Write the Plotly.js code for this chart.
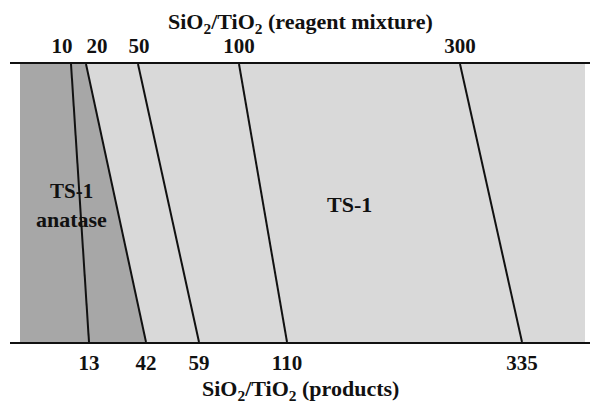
<!DOCTYPE html>
<html>
<head>
<meta charset="utf-8">
<script src="https://cdn.plot.ly/plotly-3.0.1.min.js"></script>
</head>
<body style="margin:0">
<div id="chart" style="width:590px;height:403px"></div>
<script>
// Reagent-mixture SiO2/TiO2 ratios (top) and resulting product ratios (bottom)
var reagentRatio = ['10', '20', '50', '100', '300'];
var productRatio = ['13', '42', '59', '110', '335'];
// line end positions on a shared horizontal scale (top edge / bottom edge)
var lineTop = [71, 86, 138, 239, 460];
var lineBottom = [89, 146, 199, 287, 522];
// top tick label positions (10 and 20 spread apart for legibility)
var topLabelPos = [62, 97, 139, 239, 460];
// phase region boundaries
var regionLeft = 20, regionRight = 585;

var FONT = 'Liberation Serif';
var traces = [];
// light gray TS-1 region
traces.push({x:[regionLeft, regionLeft, regionRight, regionRight, regionLeft], y:[0,1,1,0,0],
  type:'scatter', mode:'lines', fill:'toself', fillcolor:'#d9d9d9', line:{width:0}, hoverinfo:'skip', showlegend:false});
// dark gray TS-1 + anatase region (left of the 20 -> 42 line)
traces.push({x:[regionLeft, regionLeft, lineTop[1], lineBottom[1], regionLeft], y:[0,1,1,0,0],
  type:'scatter', mode:'lines', fill:'toself', fillcolor:'#a7a7a7', line:{width:0}, hoverinfo:'skip', showlegend:false});
for (var i = 0; i < lineTop.length; i++) {
  traces.push({x:[lineTop[i], lineBottom[i]], y:[1, 0], type:'scatter', mode:'lines',
    line:{color:'#111', width:2}, hoverinfo:'skip', showlegend:false});
}
// invisible trace to activate top axis
traces.push({x:[10, 590], y:[0.5, 0.5], xaxis:'x2', type:'scatter', mode:'markers', marker:{opacity:0}, hoverinfo:'skip', showlegend:false});

var layout = {
  width:590, height:403,
  margin:{l:10, r:0, t:64, b:61, pad:0},
  paper_bgcolor:'#fff', plot_bgcolor:'#fff',
  xaxis:{range:[10,590], showgrid:false, zeroline:false, showline:true, linecolor:'#111', linewidth:2,
    ticks:'', tickvals:lineBottom, ticktext:productRatio.map(function(s){return '<b>'+s+'</b>';}),
    tickfont:{family:FONT, size:21, color:'#111'}, ticklabelstandoff:1, fixedrange:true},
  xaxis2:{range:[10,590], overlaying:'x', side:'top', showgrid:false, zeroline:false, showline:true, linecolor:'#111', linewidth:2,
    ticks:'', tickvals:topLabelPos, ticktext:reagentRatio.map(function(s){return '<b>'+s+'</b>';}),
    tickfont:{family:FONT, size:21, color:'#111'}, ticklabelstandoff:1, fixedrange:true},
  yaxis:{range:[0,1], visible:false, fixedrange:true},
  annotations:[
    {text:'<b>SiO<sub>2</sub>/TiO<sub>2</sub> (reagent mixture)</b>', xref:'paper', yref:'paper', x:0.5, y:1, yshift:41, showarrow:false, font:{family:FONT, size:22, color:'#111'}, xanchor:'center', yanchor:'middle'},
    {text:'<b>SiO<sub>2</sub>/TiO<sub>2</sub> (products)</b>', xref:'paper', yref:'paper', x:0.5, y:0, yshift:-48, showarrow:false, font:{family:FONT, size:22, color:'#111'}, xanchor:'center', yanchor:'middle'},
    {text:'<b>TS-1</b>', x:349, y:0.496, showarrow:false, font:{family:FONT, size:22, color:'#111'}},
    {text:'<b>TS-1</b>', x:71, y:0.543, showarrow:false, font:{family:FONT, size:21, color:'#111'}},
    {text:'<b>anatase</b>', x:71, y:0.442, showarrow:false, font:{family:FONT, size:22, color:'#111'}}
  ]
};
Plotly.newPlot('chart', traces, layout, {displayModeBar:false});
</script>
</body>
</html>
